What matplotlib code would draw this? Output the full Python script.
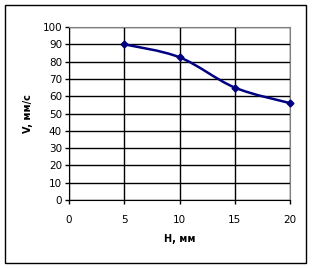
import matplotlib.pyplot as plt
from matplotlib.path import Path
from matplotlib.patches import PathPatch, Rectangle

H = [5, 10, 15, 20]
V = [90, 82.5, 65, 56]

fig = plt.figure(figsize=(3.15, 2.68), dpi=100)
ax = fig.add_axes([69 / 315, 1 - 200 / 268, 221 / 315, 173 / 268])

# smooth line like Excel (Bezier through the points)
pts = list(zip(H, V))
ext = [pts[0]] + pts + [pts[-1]]
verts = [pts[0]]
codes = [Path.MOVETO]
for i in range(1, len(ext) - 2):
    p0, p1, p2, p3 = ext[i - 1], ext[i], ext[i + 1], ext[i + 2]
    c1 = (p1[0] + (p2[0] - p0[0]) / 6, p1[1] + (p2[1] - p0[1]) / 6)
    c2 = (p2[0] - (p3[0] - p1[0]) / 6, p2[1] - (p3[1] - p1[1]) / 6)
    verts += [c1, c2, p2]
    codes += [Path.CURVE4] * 3
ax.add_patch(PathPatch(Path(verts, codes), fill=False, edgecolor='#000080', lw=1.8, zorder=3))
ax.plot(H, V, 'D', color='#000080', ms=3.5, zorder=4, clip_on=False)

ax.set_xlim(0, 20)
ax.set_ylim(0, 100)
ax.set_xticks([0, 5, 10, 15, 20])
ax.set_yticks(range(0, 101, 10))
ax.grid(True, color='black', lw=1)
ax.set_axisbelow(True)
for s in ['top', 'right']:
    ax.spines[s].set_color('gray')
for s in ['left', 'bottom']:
    ax.spines[s].set_color('black')
ax.tick_params(labelsize=7.5, length=3, width=1, pad=2)
ax.tick_params(axis='x', pad=8)
ax.set_ylabel('V, мм/с', fontsize=7, fontweight='bold', labelpad=7)
ax.set_xlabel('H, мм', fontsize=7, fontweight='bold', labelpad=6)

fig.add_artist(Rectangle((5 / 315, 5 / 268), 301 / 315, 258 / 268, transform=fig.transFigure,
                         fill=False, edgecolor='black', lw=1))

fig.savefig('out.png', dpi=100)
